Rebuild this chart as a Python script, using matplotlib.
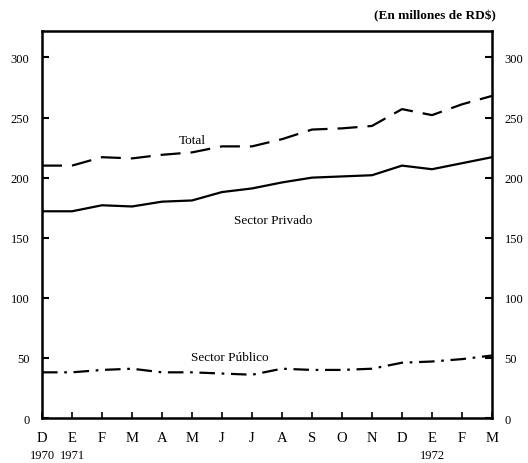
import matplotlib.pyplot as plt

# Monthly values, Dec 1970 - Mar 1972 (millions RD$)
months = ['D', 'E', 'F', 'M', 'A', 'M', 'J', 'J', 'A', 'S', 'O', 'N', 'D', 'E', 'F', 'M']
total = [210, 210, 217, 216, 219, 221, 226, 226, 232, 240, 241, 243, 257, 252, 261, 268]
privado = [172, 172, 177, 176, 180, 181, 188, 191, 196, 200, 201, 202, 210, 207, 212, 217]
publico = [38, 38, 40, 41, 38, 38, 37, 36, 41, 40, 40, 41, 46, 47, 49, 52]
yticks = [0, 50, 100, 150, 200, 250, 300]

plt.rcParams['font.family'] = ['Liberation Serif', 'DejaVu Serif']

fig = plt.figure(figsize=(5.28, 4.64), dpi=100)
ax = fig.add_axes([42 / 528, 1 - 419 / 464, 450 / 528, 387 / 464])

x = list(range(len(months)))
ax.plot(x, total, color='black', lw=1.6, dashes=(9, 4.5))
ax.plot(x, privado, color='black', lw=1.6)
ax.plot(x, publico, color='black', lw=1.6, dashes=(7, 3, 1.2, 3))

ax.set_xlim(0, 15)
ax.set_ylim(0, 322)

for s in ax.spines.values():
    s.set_linewidth(1.8)

ax.set_xticks(x)
ax.set_xticklabels(months, fontsize=10.5)
ax.set_yticks(yticks)
ax.tick_params(axis='x', direction='in', length=4, width=1.2, pad=9)
ax.tick_params(axis='y', direction='in', length=5, width=1.5, labelsize=9,
               left=True, right=True, labelleft=True, labelright=True, pad=9)

# year labels under the months
for i, yr in [(0, '1970'), (1, '1971'), (13, '1972')]:
    ax.annotate(yr, xy=(i, 0), xycoords=('data', 'axes fraction'),
                xytext=(0, -26.5), textcoords='offset points',
                ha='center', va='center', fontsize=9)

ax.text(5, 229, 'Total', fontsize=9.5, ha='center')
ax.text(7.7, 162, 'Sector Privado', fontsize=9.5, ha='center')
ax.text(6.25, 48, 'Sector Público', fontsize=9.5, ha='center')

fig.text(0.94, 0.965, '(En millones de RD$)', ha='right', va='center',
         fontsize=9.5, fontweight='bold')

fig.savefig('out.png', dpi=100)
